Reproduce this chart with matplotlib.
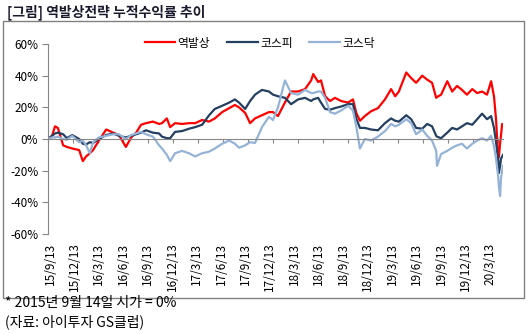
import numpy as np
import matplotlib
matplotlib.use("Agg")
import matplotlib.pyplot as plt
import matplotlib.transforms as mtransforms
from matplotlib.patches import Rectangle

plt.rcParams["font.family"] = ["Noto Sans CJK KR", "DejaVu Sans"]

# trading-day index since 2015-09-14
day = [0, 10, 17, 24, 37, 46, 59, 76, 85, 93,
       102, 110, 124, 142, 159, 173, 190, 203, 215, 227,
       239, 256, 271, 278, 290, 298, 310, 327, 344, 359,
       376, 393, 407, 425, 442, 456, 466, 481, 493, 505,
       522, 539, 549, 561, 578, 593, 610, 627, 642, 647,
       659, 666, 676, 688, 700, 715, 732, 744, 752, 761,
       773, 788, 805, 822, 837, 847, 856, 874, 886, 898,
       913, 925, 937, 947, 949, 959, 974, 986, 998, 1010,
       1022, 1035, 1047, 1059, 1071, 1081, 1088, 1093, 1098, 1100,
       1103, 1105, 1108, 1110]

# cumulative returns, %
contrarian = [0, 2, 8, 7, -4, -5, -6, -7, -14, -11,
              -9, -7, -1, 6, 4, 2.5, -5, 1, 4, 9,
              10, 11, 9.5, 10, 13, 7.5, 10, 9.5, 10, 10,
              12, 11, 13, 17, 19.5, 21.5, 20, 16.5, 10, 13,
              15, 17, 17, 14.5, 23, 30, 30, 31.5, 37, 41,
              36, 37, 27, 24, 26, 24, 23, 25, 16.5, 11.5,
              14.5, 17.5, 19.5, 25, 31.5, 27, 30, 42, 38.5, 35.5,
              40, 37.5, 35.5, 26, 26.5, 28, 36.5, 30, 33.5, 31,
              28, 31.5, 29, 30, 28, 36.5, 27, 12.5, -11, -11.5,
              -2.5, 2, 9.5, 9]

kospi = [0, 2, 3.5, 4, 3, 0.5, 2.5, 0, -3, -3.5,
         -2, -2.5, 0, 2.5, 3.5, 2, 1, 2, 3, 4,
         5.5, 4, 3.5, 1.5, 0.5, 0.5, 4.5, 5, 6.5, 7.5,
         9, 15, 19, 21, 23, 25, 23, 19, 24, 28,
         31, 30, 28, 27, 26, 22, 25, 26, 24, 25,
         26, 23, 19, 18.5, 19.5, 20.5, 22, 22, 13, 7,
         7, 6, 5.5, 10, 13, 11.5, 11, 15, 12.5, 7,
         6.5, 9.5, 8, 2, 1.5, 0.5, 4, 7, 6, 8,
         10, 9, 12.5, 16, 12.5, 14.5, 7, -2, -12, -21.5,
         -17, -12.5, -11, -10]

kosdaq = [0, 1, 1, 1.5, 0, -0.5, 2, -2, -1, -4,
          -9, -2, 1, 2, 3, 3, 0, 2.5, 3.5, 4.5,
          3, 1.5, -4, -6, -10, -14, -9, -7.5, -9, -11,
          -9, -8, -6, -3, -1, -3, -5.5, -4, -2, -2.5,
          7.5, 14, 12, 20, 37, 29, 28, 31, 29, 29,
          30, 30, 26, 17, 16, 18, 21, 18, 8, -6,
          0, -1, 1.5, 5, 9.5, 8, 9, 12.5, 10, 3,
          6, 2, -1, -7.5, -17, -9.5, -7.5, -5.5, -4, -3,
          -6, -3, -1, 0.5, -1, 2, -4.5, -12.5, -23, -30,
          -36, -25, -20, -17]

date_labels = ["15/9/13", "15/12/13", "16/3/13", "16/6/13", "16/9/13",
               "16/12/13", "17/3/13", "17/6/13", "17/9/13", "17/12/13",
               "18/3/13", "18/6/13", "18/9/13", "18/12/13", "19/3/13",
               "19/6/13", "19/9/13", "19/12/13", "20/3/13"]
y_ticks = [-60, -40, -20, 0, 20, 40, 60]

fig = plt.figure(figsize=(5.3, 3.34), dpi=100)
ax = fig.add_axes([48 / 530, 1 - 234 / 334, 455 / 530, 190 / 334])

ax.plot(day, contrarian, color="#FF0000", lw=1.6, label="역발상")
ax.plot(day, kospi, color="#243F60", lw=1.6, label="코스피")
ax.plot(day, kosdaq, color="#95B3D7", lw=1.6, label="코스닥")

ax.set_xlim(0, 1110)
ax.set_ylim(-60, 60)
ax.set_yticks(y_ticks)
ax.set_yticklabels([f"{v}%" for v in y_ticks])

for s in ["top", "right"]:
    ax.spines[s].set_visible(False)
ax.spines["left"].set_color("#868686")
ax.spines["bottom"].set_color("#868686")
ax.spines["bottom"].set_position(("data", 0))

ax.tick_params(axis="y", direction="out", length=4, width=0.8, color="#868686",
               labelsize=8.5, pad=3)
ax.set_xticks([61 * k for k in range(len(date_labels))])
ax.tick_params(axis="x", direction="out", length=3, width=0.8, color="#868686",
               labelbottom=False)

# date labels sit below the plot, not on the zero line
trans = mtransforms.blended_transform_factory(ax.transData, ax.transAxes)
for k, lab in enumerate(date_labels):
    ax.text(5 + 59.6 * k, -0.045, lab, transform=trans, rotation=90,
            ha="center", va="top", fontsize=8.5)

fig.legend(loc="center", bbox_to_anchor=(0.49, 0.871), ncol=3, frameon=False,
           fontsize=8.5, handlelength=2.6, handletextpad=0.2, columnspacing=1.4)

fig.text(7 / 530, 1 - 12 / 334, "[그림] 역발상전략 누적수익률 추이", fontsize=10,
         fontweight="bold", va="center", color="#1a1a2e")
fig.patches.append(Rectangle((3 / 530, 1 - 298 / 334), 521 / 530, 277 / 334,
                             transform=fig.transFigure, fill=False,
                             ec="#808080", lw=1))
fig.text(5 / 530, 1 - 303 / 334, "* 2015년 9월 14일 시가 = 0%", fontsize=10,
         va="center")
fig.text(5 / 530, 1 - 322 / 334, "(자료: 아이투자 GS클럽)", fontsize=10,
         va="center")

fig.savefig("out.png", dpi=100)
